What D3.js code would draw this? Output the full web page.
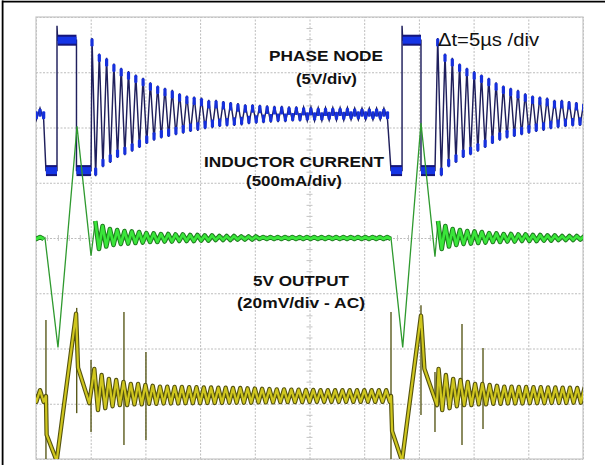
<!DOCTYPE html>
<html><head><meta charset="utf-8">
<script src="https://cdn.jsdelivr.net/npm/d3@7"></script>
<style>html,body{margin:0;padding:0;background:#fff;} svg{display:block;}</style>
</head><body><svg id="c" width="611" height="465"></svg>
<script>
// ================= DATA =================
const gridTimeUs = [0,5,10,15,20,25,30,35,40,45,50];      // 5 µs/div
const gridDiv    = [-4,-3,-2,-1,0,1,2,3,4];
const ringPeriodUs = 0.667;                                 // ringing period

// PHASE NODE (V)
const phaseEdgesUs = [[0.91,1.92,3.70,5.03],[32.45,33.46,35.19,36.47]]; // low, high, low, ring
const phaseLevelsV = [0, 11.8, 13.1];                       // low, high, overshoot
const phaseRingStartUs = [5.12, 36.72];
const phasePeakV = [12.0,10.6,10.2,9.7,9.3,9.0,8.7,8.4,8.0,7.7,7.5,7.3,7.0,6.8,6.7,6.6,6.4,6.4,6.3,6.2,6.1,6.0,6.0,5.95,5.9,5.85,5.85,5.8,5.8,5.75,5.75,5.7,5.7,5.7,5.7,5.7,5.65,5.65,5.65,5.65,5.65];
const phaseTroughV = [-0.5,0.3,0.7,1.15,1.4,1.7,2.05,2.4,2.7,2.9,3.05,3.2,3.35,3.5,3.6,3.75,3.85,3.95,4.0,4.05,4.1,4.2,4.25,4.3,4.35,4.4,4.4,4.45,4.45,4.5,4.5,4.5,4.55,4.55,4.55,4.6,4.6,4.6,4.6,4.6,4.6];

// INDUCTOR CURRENT (mA)
const currRamp1 = [[0.82,0],[2.01,-990],[3.75,1010],[5.03,-160]];
const currRamp2 = [[32.45,0],[33.52,-990],[35.19,1040],[36.47,-170]];
const currRingStartUs = [5.42, 36.75];
const currPeakmA = [154,109,81,72,63,59,54,45,41,36,36,32,32,27,27,23,23,18,18,18,14,14,14,9,9,9,9,9,9,9,9,9,9,9,9,9,9,9,9,9,9];
const currTroughmA = [-100,-77,-63,-54,-50,-45,-41,-36,-36,-32,-32,-27,-27,-27,-23,-23,-18,-18,-18,-14,-14,-14,-9,-9,-9,-9,-9,-9,-9,-9,-9,-9,-9,-9,-9,-9,-9,-9,-9,-9,-9];

// 5V OUTPUT (mV, AC)
const outRamp1 = [[0.91,0],[0.97,-14],[1.89,-23.5],[3.66,29.8],[3.84,10.3],[4.87,-2.6]];
const outRamp2 = [[32.45,0],[32.55,-12.7],[33.46,-23.5],[35.19,29.1],[35.5,9.9],[36.65,-3.3]];
const outRingStartUs = [5.33, 36.8];
const outPeakmV = [9.8,7.6,6.2,5.8,5.1,4.4,4.4,4.0,3.7,3.4,3.4,3.3,3.3,3.2,3.2,3.1,3.1,3.0,3.0,2.9,2.9,2.8,2.7,2.6,2.5,2.4,2.4,2.3,2.3,2.2,2.2,2.1,2.1,2.1,2.1,2.1,2.1,2.1,2.1,2.1,2.1];
const outTroughmV = [-5.1,-4.4,-3.7,-3.3,-3.3,-3.0,-3.0,-2.8,-2.8,-2.7,-2.7,-2.7,-2.6,-2.6,-2.6,-2.5,-2.5,-2.5,-2.4,-2.4,-2.4,-2.4,-2.3,-2.3,-2.3,-2.2,-2.2,-2.2,-2.2,-2.1,-2.1,-2.1,-2.1,-2.1,-2.1,-2.1,-2.1,-2.1,-2.1,-2.1,-2.1];
const outSpikes = [[0.91,27.5,-24],[3.72,31.9,-6.2],[5.03,13,-13],[8.04,30.4,-17.7],[10.05,15.9,-15.9],
                   [32.45,30.4,-24],[35.19,32.9,-6.9],[36.47,8.7,-13],[38.94,26.1,-17.7],[40.86,17.4,-11.9]];

const labelTexts = ["PHASE NODE","(5V/div)","INDUCTOR CURRENT","(500mA/div)","5V OUTPUT","(20mV/div - AC)","\u0394t=5\u00b5s /div"];

// ================= SCALES =================
const L=36, R=583, T=17, B=459;
const svg = d3.select("#c");
const x = d3.scaleLinear().domain([0,50]).range([L,R]);
const yDiv = d3.scaleLinear().domain([-4,4]).range([B,T]);
const yPhase = d3.scaleLinear().domain([0,5]).range([yDiv(1.22), yDiv(2.22)]);
const yCurr  = d3.scaleLinear().domain([0,500]).range([yDiv(0), yDiv(1)]);
const yOut   = d3.scaleLinear().domain([0,20]).range([yDiv(-2.86), yDiv(-1.86)]);

// ================= FRAME & GRID =================
svg.append("line").attr("x1",2.6).attr("y1",0.5).attr("x2",2.6).attr("y2",465).attr("stroke","#000").attr("stroke-width",1.8);
svg.append("line").attr("x1",2).attr("y1",1.6).attr("x2",605).attr("y2",1.6).attr("stroke","#000").attr("stroke-width",1.8);

const grid = svg.append("g");
const gx = grid.append("g").attr("transform",`translate(0,${B})`)
  .call(d3.axisBottom(x).tickValues(gridTimeUs).tickSize(-(B-T)).tickFormat(""));
const gy = grid.append("g").attr("transform",`translate(${L},0)`)
  .call(d3.axisLeft(yDiv).tickValues(gridDiv).tickSize(-(R-L)).tickFormat(""));
[gx,gy].forEach(g=>{ g.select(".domain").remove();
  g.selectAll(".tick line").attr("stroke","#bdbdbd").attr("stroke-dasharray","2,1.5").attr("stroke-width",1); });
const mx = grid.append("g").attr("transform",`translate(0,${yDiv(0)-3})`)
  .call(d3.axisBottom(x).tickValues(d3.range(0,50.01,1)).tickSize(6).tickFormat(""));
const my = grid.append("g").attr("transform",`translate(${x(25)+3},0)`)
  .call(d3.axisLeft(yDiv).tickValues(d3.range(-4,4.01,0.2)).tickSize(6).tickFormat(""));
[mx,my].forEach(g=>{ g.select(".domain").remove(); g.selectAll(".tick line").attr("stroke","#c4c4c4").attr("stroke-width",1); });
grid.append("rect").attr("x",L).attr("y",T).attr("width",R-L).attr("height",B-T)
  .attr("fill","none").attr("stroke","#c6c6c6").attr("stroke-width",1.2);

svg.append("clipPath").attr("id","clip").append("rect").attr("x",L).attr("y",T).attr("width",R-L).attr("height",B-T);
const plot = svg.append("g").attr("clip-path","url(#clip)");

// ================= TRACE BUILDERS =================
function ring(t0, tEnd, peaks, troughs, k0){
  const pts=[];
  for(let k=0;;k++){
    const i=Math.min(k+k0, peaks.length-1);
    const tp=t0+k*ringPeriodUs, tt=tp+ringPeriodUs/2;
    if(tp>tEnd) break; pts.push([tp,peaks[i],1]);
    if(tt>tEnd) break; pts.push([tt,troughs[i],-1]);
  }
  return pts;
}
function buildTrace(ramps, ringStarts, peaks, troughs){
  const segs=[], full=[];
  const tail=ring(-0.3, ramps[0][0][0], peaks, troughs, peaks.length-1);
  segs.push(tail); full.push(...tail);
  ramps.forEach((r,i)=>{
    full.push(...r);
    const tEnd = i+1<ramps.length ? ramps[i+1][0][0] : 50.6;
    const rg=ring(ringStarts[i], tEnd, peaks, troughs, 0);
    segs.push(rg); full.push(...rg);
  });
  return {full, segs};
}

// ---- PHASE NODE ----
const [pLow,pHigh,pOver] = phaseLevelsV;
const phaseRamps = phaseEdgesUs.map(([a,b,c,d])=>[[a,pLow],[b,pLow],[b,pOver],[b+0.06,pHigh],[c,pHigh],[c,pLow],[d,pLow]]);
const phase = buildTrace(phaseRamps, phaseRingStartUs, phasePeakV, phaseTroughV);
const linePhase = d3.line().x(d=>x(d[0])).y(d=>yPhase(d[1]));
plot.append("path").attr("d",linePhase(phase.full)).attr("fill","none").attr("stroke","#1f1f5c").attr("stroke-width",1.45);
phaseRamps.forEach(r=>{
  [[r[0],r[1]],[r[3],r[4]],[r[5],r[6]]].forEach(seg=>{
    plot.append("path").attr("d",linePhase(seg)).attr("fill","none").attr("stroke","#16167a").attr("stroke-width",11);
    plot.append("path").attr("d",linePhase(seg)).attr("fill","none").attr("stroke","#1535e6").attr("stroke-width",7);
  });
});
const blobs = phase.segs.flat();
plot.selectAll("rect.blob").data(blobs).join("rect").attr("class","blob")
  .attr("x",d=>x(d[0])-1.6).attr("width",3.2)
  .attr("y",d=>d[2]>0 ? yPhase(d[1])+0.5 : yPhase(d[1])-8.5).attr("height",8)
  .attr("rx",1.2)
  .attr("fill","#1630dc");

// ---- INDUCTOR CURRENT ----
const curr = buildTrace([currRamp1,currRamp2], currRingStartUs, currPeakmA, currTroughmA);
const lineCurr = d3.line().x(d=>x(d[0])).y(d=>yCurr(d[1]));
plot.append("path").attr("d",lineCurr(curr.full)).attr("fill","none").attr("stroke","#2f9a2f").attr("stroke-width",1.3);
curr.segs.forEach(s=>{
  plot.append("path").attr("d",lineCurr(s)).attr("fill","none").attr("stroke","#1f7d1f").attr("stroke-width",4.6).attr("stroke-linejoin","round");
  plot.append("path").attr("d",lineCurr(s)).attr("fill","none").attr("stroke","#3ae63a").attr("stroke-width",2.6).attr("stroke-linejoin","round");
});

// ---- 5V OUTPUT ----
const out = buildTrace([outRamp1,outRamp2], outRingStartUs, outPeakmV, outTroughmV);
const lineOut = d3.line().x(d=>x(d[0])).y(d=>yOut(d[1]));
plot.selectAll("line.spike").data(outSpikes).join("line").attr("class","spike")
  .attr("x1",d=>x(d[0])).attr("x2",d=>x(d[0])).attr("y1",d=>yOut(d[1])).attr("y2",d=>yOut(d[2]))
  .attr("stroke","#5a5a1c").attr("stroke-width",1.4);
plot.append("path").attr("d",lineOut(out.full)).attr("fill","none").attr("stroke","#55530f").attr("stroke-width",4.4).attr("stroke-linejoin","round");
plot.append("path").attr("d",lineOut(out.full)).attr("fill","none").attr("stroke","#cfc61e").attr("stroke-width",2.2).attr("stroke-linejoin","round");

// ================= LABELS =================
const labelLayout = [
  {x:269,y:60.7,len:114,size:14.6,w:"bold"},
  {x:296,y:84,len:61,size:14.6,w:"bold"},
  {x:204,y:166.7,len:180,size:14.6,w:"bold"},
  {x:246,y:186,len:96,size:14.6,w:"bold"},
  {x:253,y:285.5,len:96,size:14.6,w:"bold"},
  {x:237,y:308,len:128,size:14.6,w:"bold"},
  {x:438,y:45.5,len:101,size:18.5,w:"normal"}
];
svg.selectAll("text.lbl").data(labelTexts).join("text").attr("class","lbl")
  .attr("x",(d,i)=>labelLayout[i].x).attr("y",(d,i)=>labelLayout[i].y)
  .attr("textLength",(d,i)=>labelLayout[i].len).attr("lengthAdjust","spacingAndGlyphs")
  .attr("font-family","'Liberation Sans', Arial, sans-serif")
  .attr("font-size",(d,i)=>labelLayout[i].size).attr("font-weight",(d,i)=>labelLayout[i].w)
  .attr("fill","#111").text(d=>d);
</script></body></html>
